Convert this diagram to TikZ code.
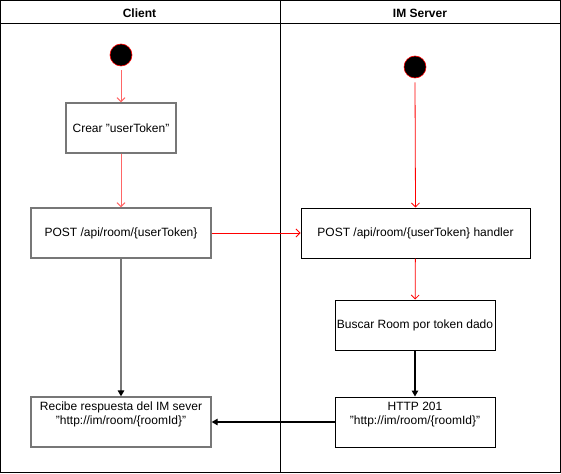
\documentclass[tikz,border=0pt]{standalone}
\usepackage{fontspec}
\setmainfont{Liberation Sans}
\usetikzlibrary{arrows.meta}
\definecolor{lred}{HTML}{FF6666}
\definecolor{cgray}{HTML}{777777}
\begin{document}
\begin{tikzpicture}[x=1pt,y=-1pt,
  every node/.style={font=\fontsize{12}{14}\selectfont},
  cbox/.style={draw=cgray,line width=1.3pt,minimum width=#1,minimum height=50pt,inner sep=0pt,align=center},
  sbox/.style={draw=black,line width=1pt,minimum width=#1,minimum height=50pt,inner sep=0pt,align=center},
  startdot/.style={circle,fill=black,draw=red,line width=0.6pt,minimum size=22pt,inner sep=0pt},
  redarr/.style={draw=red,line width=0.8pt,-{Straight Barb[length=4pt,width=8pt,line width=0.8pt]}},
  lredarr/.style={draw=lred,line width=1pt,-{Straight Barb[length=4pt,width=8pt,line width=1pt]}},
  blkarr/.style={draw=black,line width=1.1pt,-{Triangle[length=6pt,width=6.5pt]}},
  grayarr/.style={draw=cgray,line width=1.4pt,-{Triangle[length=6pt,width=6.5pt,color=black,fill=black]}},
  lane/.style={draw=black,line width=0.9pt}]
\useasboundingbox (0,0) rectangle (561,473);
% swimlanes
\draw[lane] (0.5,0.5) rectangle (560.5,472.5);
\draw[lane] (0.5,23) -- (560.5,23);
\draw[lane] (280.5,0.5) -- (280.5,472.5);
\node[font=\bfseries\fontsize{12}{14}\selectfont] (hc) at (139.5,13) {Client};
\node[font=\bfseries\fontsize{12}{14}\selectfont] (hs) at (420,13) {IM Server};
% client nodes
\node[startdot] (cs) at (121,55) {};
\node[cbox=110pt] (crear) at (121,128) {Crear "userToken"};
\node[cbox=180pt] (post) at (121,233) {POST /api/room/\{userToken\}};
\node[cbox=180pt] (rec) at (121,422) {};
\node[anchor=north,align=center] (rect) at (121,398.5) {Recibe respuesta del IM sever\\"http://im/room/\{roomId\}"};
% server nodes
\node[startdot] (ss) at (415,67) {};
\node[sbox=229pt] (hand) at (415.5,233) {POST /api/room/\{userToken\} handler};
\node[sbox=160pt] (busc) at (415,325) {Buscar Room por token dado};
\node[sbox=160pt] (http) at (415,422) {};
\node[anchor=north,align=center] (httpt) at (415,398.5) {HTTP 201\\"http://im/room/\{roomId\}"};
% connectors
\draw[lredarr] (cs.south) ++(0,4) -- (crear.north);
\draw[lredarr] (crear) -- (post);
\draw[redarr] (post) -- (hand);
\draw[redarr] (ss.south) ++(0,4) -- (hand.north);
\draw[redarr] (hand) -- (busc);
\draw[blkarr] (busc) -- (http);
\draw[grayarr] (post) -- (rec);
\draw[blkarr] (http) -- (rec);
\end{tikzpicture}
\end{document}
